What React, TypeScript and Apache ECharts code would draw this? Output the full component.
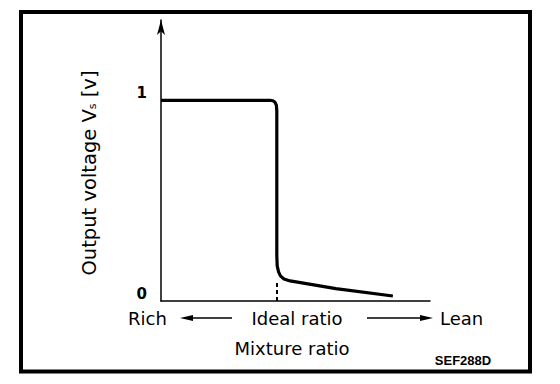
import React, { useEffect, useRef } from "react";
import * as echarts from "echarts";

// Output voltage curve (x: mixture position 0..100, y: volts)
const curveX = [0, 20, 40.5, 41.6, 42.4, 42.9, 43.05, 43.05, 43.2, 43.7, 44.4, 45.7, 48, 65, 86.2];
const curveY = [1.0, 1.0, 1.0, 0.9975, 0.99, 0.975, 0.95, 0.225, 0.175, 0.145, 0.125, 0.11, 0.1, 0.062, 0.025];
const idealX = 42.9;
const idealTop = 0.1;
const yTickLabels = ["0", "1"];
const yTickValues = [0, 1];
const yAxisTitle = "Output voltage V{sub|s} [v]";
const leftLabel = "Rich";
const centerLabel = "Ideal ratio";
const rightLabel = "Lean";
const xAxisTitle = "Mixture ratio";
const figCode = "SEF288D";

const FONT = "DejaVu Sans";

export default function App() {
  const ref = useRef<HTMLDivElement>(null);
  useEffect(() => {
    if (!ref.current) return;
    const chart = echarts.init(ref.current, null, { renderer: "svg" });
    const data = curveX.map((x, i) => [x, curveY[i]]);
    const textRowY = 318;
    chart.setOption({
      animation: false,
      backgroundColor: "#ffffff",
      grid: { left: 161, right: 130, top: 20, bottom: 83, containLabel: false },
      xAxis: {
        type: "value",
        min: 0,
        max: 100,
        axisLine: { show: true, onZero: false, lineStyle: { color: "#000", width: 1.5 } },
        axisTick: { show: false },
        axisLabel: { show: false },
        splitLine: { show: false },
      },
      yAxis: {
        type: "value",
        min: 0,
        max: 1.4,
        interval: 1,
        axisLine: {
          show: true,
          lineStyle: { color: "#000", width: 1.5 },
          symbol: ["none", "arrow"],
          symbolSize: [6, 15],
        },
        axisTick: { show: false },
        splitLine: { show: false },
        axisLabel: {
          show: true,
          margin: 14,
          color: "#000",
          fontFamily: FONT,
          fontWeight: "bold",
          fontSize: 15,
          verticalAlign: "bottom",
          formatter: (v: number) => {
            const i = yTickValues.indexOf(v);
            return i >= 0 ? yTickLabels[i] : "";
          },
        },
        name: yAxisTitle,
        nameLocation: "middle",
        nameRotate: 90,
        nameGap: 62,
        nameTextStyle: {
          color: "#000",
          fontFamily: FONT,
          fontSize: 19.5,
          padding: [0, 25, 0, 0],
          rich: {
            sub: { fontSize: 11, fontFamily: FONT, color: "#000", padding: [7, 0, 0, 0] },
          },
        },
      },
      series: [
        {
          type: "line",
          data,
          showSymbol: false,
          symbol: "none",
          smooth: false,
          lineStyle: { color: "#000", width: 3.2 },
          markLine: {
            silent: true,
            symbol: ["none", "none"],
            label: { show: false },
            lineStyle: { color: "#000", width: 2, type: [4, 3] },
            data: [[{ coord: [idealX, 0] }, { coord: [idealX, idealTop] }]],
          },
        },
      ],
      graphic: [
        {
          type: "rect",
          shape: { x: 21, y: 12, width: 509, height: 359.5 },
          style: { fill: "none", stroke: "#000", lineWidth: 4 },
        },
        {
          type: "text",
          x: 128,
          y: textRowY,
          style: { text: leftLabel, fontFamily: FONT, fontSize: 18, fill: "#000", verticalAlign: "middle", align: "left" },
        },
        {
          type: "line",
          shape: { x1: 186, y1: textRowY, x2: 232, y2: textRowY },
          style: { stroke: "#000", lineWidth: 1.5 },
        },
        {
          type: "polygon",
          shape: { points: [[180, textRowY], [193, textRowY - 3], [193, textRowY + 3]] },
          style: { fill: "#000" },
        },
        {
          type: "text",
          x: 297,
          y: textRowY,
          style: { text: centerLabel, fontFamily: FONT, fontSize: 18, fill: "#000", verticalAlign: "middle", align: "center" },
        },
        {
          type: "line",
          shape: { x1: 367, y1: textRowY, x2: 426, y2: textRowY },
          style: { stroke: "#000", lineWidth: 1.5 },
        },
        {
          type: "polygon",
          shape: { points: [[433, textRowY], [420, textRowY - 3], [420, textRowY + 3]] },
          style: { fill: "#000" },
        },
        {
          type: "text",
          x: 440,
          y: textRowY,
          style: { text: rightLabel, fontFamily: FONT, fontSize: 18, fill: "#000", verticalAlign: "middle", align: "left" },
        },
        {
          type: "text",
          x: 292,
          y: 348,
          style: { text: xAxisTitle, fontFamily: FONT, fontSize: 18, fill: "#000", verticalAlign: "middle", align: "center" },
        },
        {
          type: "text",
          x: 463,
          y: 360,
          style: { text: figCode, fontFamily: "Liberation Sans", fontWeight: "bold", fontSize: 13, fill: "#000", verticalAlign: "middle", align: "center" },
        },
      ],
    });
    return () => chart.dispose();
  }, []);
  return (
    <div
      ref={ref}
      style={{ position: "fixed", left: 0, top: 0, width: 560, height: 384, background: "#fff" }}
    />
  );
}
